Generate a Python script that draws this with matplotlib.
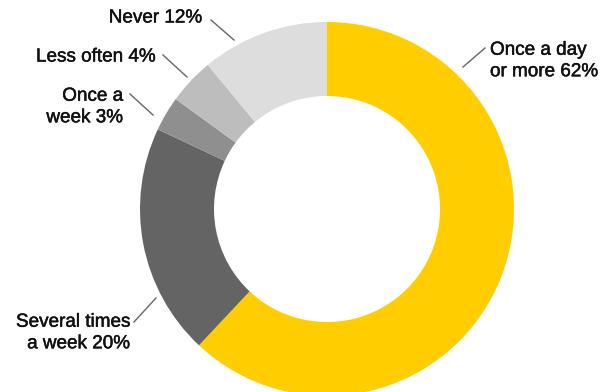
import numpy as np
import matplotlib.pyplot as plt
import matplotlib.patheffects as pe
from matplotlib.patches import Wedge

# Share of respondents by frequency (%)
categories = ["Once a day\nor more", "Several times\na week", "Once a\nweek", "Less often", "Never"]
shares = [62, 20, 3, 4, 12]
colors = ["#ffcd00", "#646464", "#8f8f8f", "#bdbdbd", "#dddddd"]

# label text anchor, alignment and leader line (pixel layout, y up)
label_pos = [(490, 331, "left"), (130, 59, "right"), (123, 285, "right"),
             (155, 335, "right"), (202, 374, "right")]
leaders = [((463, 325), (485, 344)), ((156, 94), (134, 70)), ((153, 277), (130, 298)),
           ((187, 315), (163, 337)), ((234, 352), (211, 372))]

W, H = 612, 392
fig = plt.figure(figsize=(W / 100, H / 100), dpi=100)
ax = fig.add_axes([0, 0, 1, 1])
ax.set_xlim(0, W)
ax.set_ylim(0, H)
ax.set_aspect("equal")
ax.axis("off")

cx, cy, r_out, ring = 327, 183, 187, 74

# rounded shares add up to 101, so the ring is closed at 100
ends = np.minimum(np.cumsum(shares), 100)
starts = np.concatenate([[0], ends[:-1]])
for s, e, c in zip(starts, ends, colors):
    ax.add_patch(Wedge((cx, cy), r_out, 90 - e * 3.6, 90 - s * 3.6, width=ring,
                       facecolor=c, edgecolor="none"))

bold = [pe.withStroke(linewidth=0.35, foreground="#111111")]
for name, val, (x, y, ha), (p0, p1) in zip(categories, shares, label_pos, leaders):
    ax.text(x, y, f"{name} {val}%", ha=ha, va="center", fontsize=13.6,
            family="Liberation Sans", color="#111111", linespacing=1.35,
            path_effects=bold)
    ax.plot([p0[0], p1[0]], [p0[1], p1[1]], color="#666666", lw=1)

fig.savefig("out.png", dpi=100)
